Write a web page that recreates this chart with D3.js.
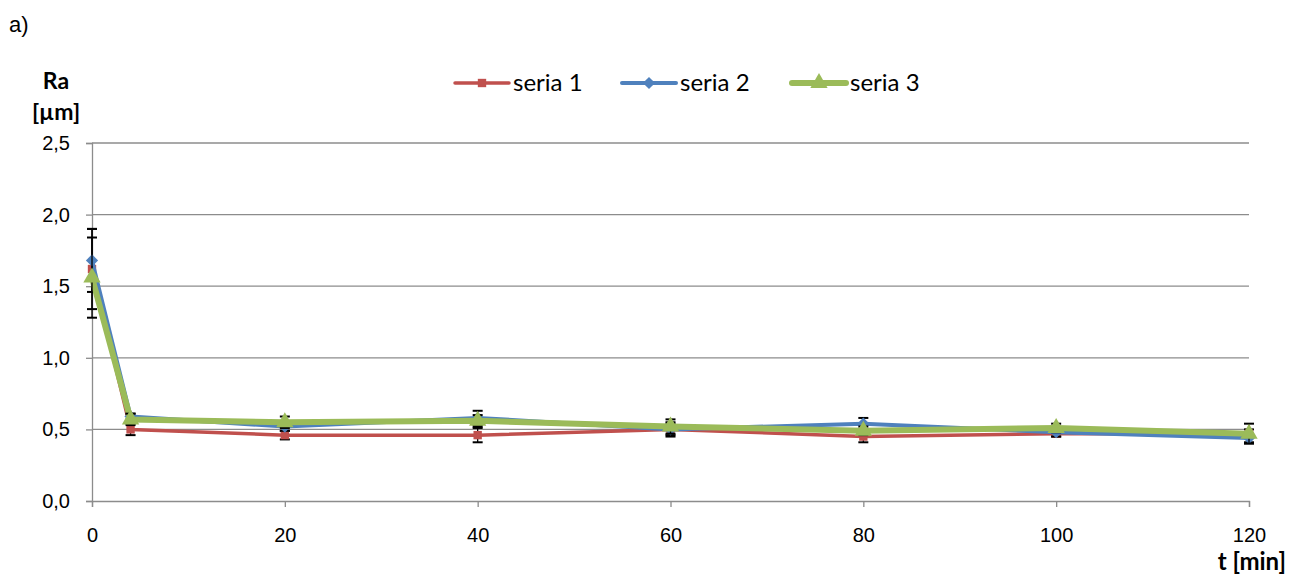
<!DOCTYPE html>
<html><head><meta charset="utf-8">
<script src="https://cdn.jsdelivr.net/npm/d3@7"></script>
<style>body{margin:0;background:#fff}svg{display:block}</style>
</head><body>
<svg id="c" width="1289" height="576"></svg>
<script>
const times = [0, 4, 20, 40, 60, 80, 100, 120];
const seria1 = [1.62, 0.50, 0.46, 0.46, 0.50, 0.45, 0.47, 0.47];
const seria2 = [1.68, 0.59, 0.52, 0.58, 0.50, 0.54, 0.48, 0.44];
const seria3 = [1.56, 0.57, 0.55, 0.56, 0.52, 0.49, 0.51, 0.47];
const err1 = [0.28, 0.04, 0.03, 0.05, 0.05, 0.04, 0.02, 0.03];
const err2 = [0.22, 0.02, 0.03, 0.05, 0.04, 0.04, 0.03, 0.03];
const err3 = [0.28, 0.04, 0.04, 0.04, 0.05, 0.03, 0.03, 0.07];
const xTicks = [0, 20, 40, 60, 80, 100, 120];
const yTicks = [0, 0.5, 1.0, 1.5, 2.0, 2.5];
const seriesNames = ["seria 1", "seria 2", "seria 3"];

const svg = d3.select("#c");
const x = d3.scaleLinear().domain([0, 120]).range([92, 1249]);
const y = d3.scaleLinear().domain([0, 2.5]).range([501, 143]);
const fmt = d => d3.format(".1f")(d).replace(".", ",");

// gridlines
svg.append("g").selectAll("line").data(yTicks.filter(d => d > 0)).join("line")
  .attr("x1", x(0)).attr("x2", x(120)).attr("y1", d => y(d)).attr("y2", d => y(d))
  .attr("stroke", "#8c8c8c").attr("stroke-width", 1.3);

// y axis
const ya = svg.append("g").attr("transform", `translate(${x(0)},0)`)
  .call(d3.axisLeft(y).tickValues(yTicks).tickFormat(fmt).tickSize(6).tickPadding(16));
// x axis
const xa = svg.append("g").attr("transform", `translate(0,${y(0)})`)
  .call(d3.axisBottom(x).tickValues(xTicks).tickSize(6).tickPadding(21));
[ya, xa].forEach(a => {
  a.select(".domain").attr("stroke", "#8c8c8c").attr("stroke-width", 1.3);
  a.selectAll(".tick line").attr("stroke", "#8c8c8c").attr("stroke-width", 1.3);
  a.selectAll("text").attr("font-family", "Liberation Sans, Arial, sans-serif")
    .attr("font-size", 20).attr("fill", "#000");
});

const series = [
  {name: seriesNames[0], vals: seria1, err: err1, color: "#C0504D", w: 3.5, marker: "square", size: 70},
  {name: seriesNames[1], vals: seria2, err: err2, color: "#4F81BD", w: 4, marker: "diamond", size: 95},
  {name: seriesNames[2], vals: seria3, err: err3, color: "#9BBB59", w: 6, marker: "triangle", size: 130}
];
const sym = {square: d3.symbolSquare, diamond: d3.symbolDiamond2, triangle: d3.symbolTriangle};

series.forEach(s => {
  const pts = times.map((t, i) => ({t, v: s.vals[i], e: s.err[i]}));
  const g = svg.append("g");
  g.append("path").datum(pts)
    .attr("d", d3.line().x(d => x(d.t)).y(d => y(d.v)))
    .attr("fill", "none").attr("stroke", s.color).attr("stroke-width", s.w)
    .attr("stroke-linejoin", "round");
  const eb = g.append("g").selectAll("g").data(pts).join("g");
  eb.append("line").attr("x1", d => x(d.t)).attr("x2", d => x(d.t))
    .attr("y1", d => y(d.v - d.e)).attr("y2", d => y(d.v + d.e))
    .attr("stroke", "#000").attr("stroke-width", 1.3);
  [1, -1].forEach(sg => {
    eb.append("line").attr("x1", d => x(d.t) - 5).attr("x2", d => x(d.t) + 5)
      .attr("y1", d => y(d.v + sg * d.e)).attr("y2", d => y(d.v + sg * d.e))
      .attr("stroke", "#000").attr("stroke-width", 2);
  });
  g.append("g").selectAll("path").data(pts).join("path")
    .attr("transform", d => `translate(${x(d.t)},${y(d.v)})`)
    .attr("d", d3.symbol().type(sym[s.marker]).size(s.size))
    .attr("fill", s.color);
});

// legend
const legX = [455, 622, 792];
series.forEach((s, i) => {
  const lg = svg.append("g").attr("transform", `translate(${legX[i]},83)`);
  lg.append("line").attr("x1", 0).attr("x2", 54).attr("stroke", s.color)
    .attr("stroke-width", s.w).attr("stroke-linecap", "round");
  lg.append("path").attr("transform", "translate(27,0)")
    .attr("d", d3.symbol().type(sym[s.marker]).size(s.size)).attr("fill", s.color);
  lg.append("text").attr("x", 58).attr("y", 8).text(s.name)
    .attr("font-family", "Lato, Carlito, sans-serif").attr("font-size", 24).attr("fill", "#000");
});

// titles
svg.append("text").attr("x", 9).attr("y", 32).text("a)")
  .attr("font-family", "Liberation Sans, Arial, sans-serif").attr("font-size", 22);
svg.append("text").attr("x", 56).attr("y", 89).attr("text-anchor", "middle").text("Ra")
  .attr("font-family", "Lato, Carlito, sans-serif").attr("font-weight", "bold").attr("font-size", 23);
svg.append("text").attr("x", 56).attr("y", 120).attr("text-anchor", "middle").text("[µm]")
  .attr("font-family", "Lato, Carlito, sans-serif").attr("font-weight", "bold").attr("font-size", 23);
svg.append("text").attr("x", 1286).attr("y", 570).attr("text-anchor", "end").text("t [min]")
  .attr("font-family", "Lato, Carlito, sans-serif").attr("font-weight", "bold").attr("font-size", 24);
</script>
</body></html>
